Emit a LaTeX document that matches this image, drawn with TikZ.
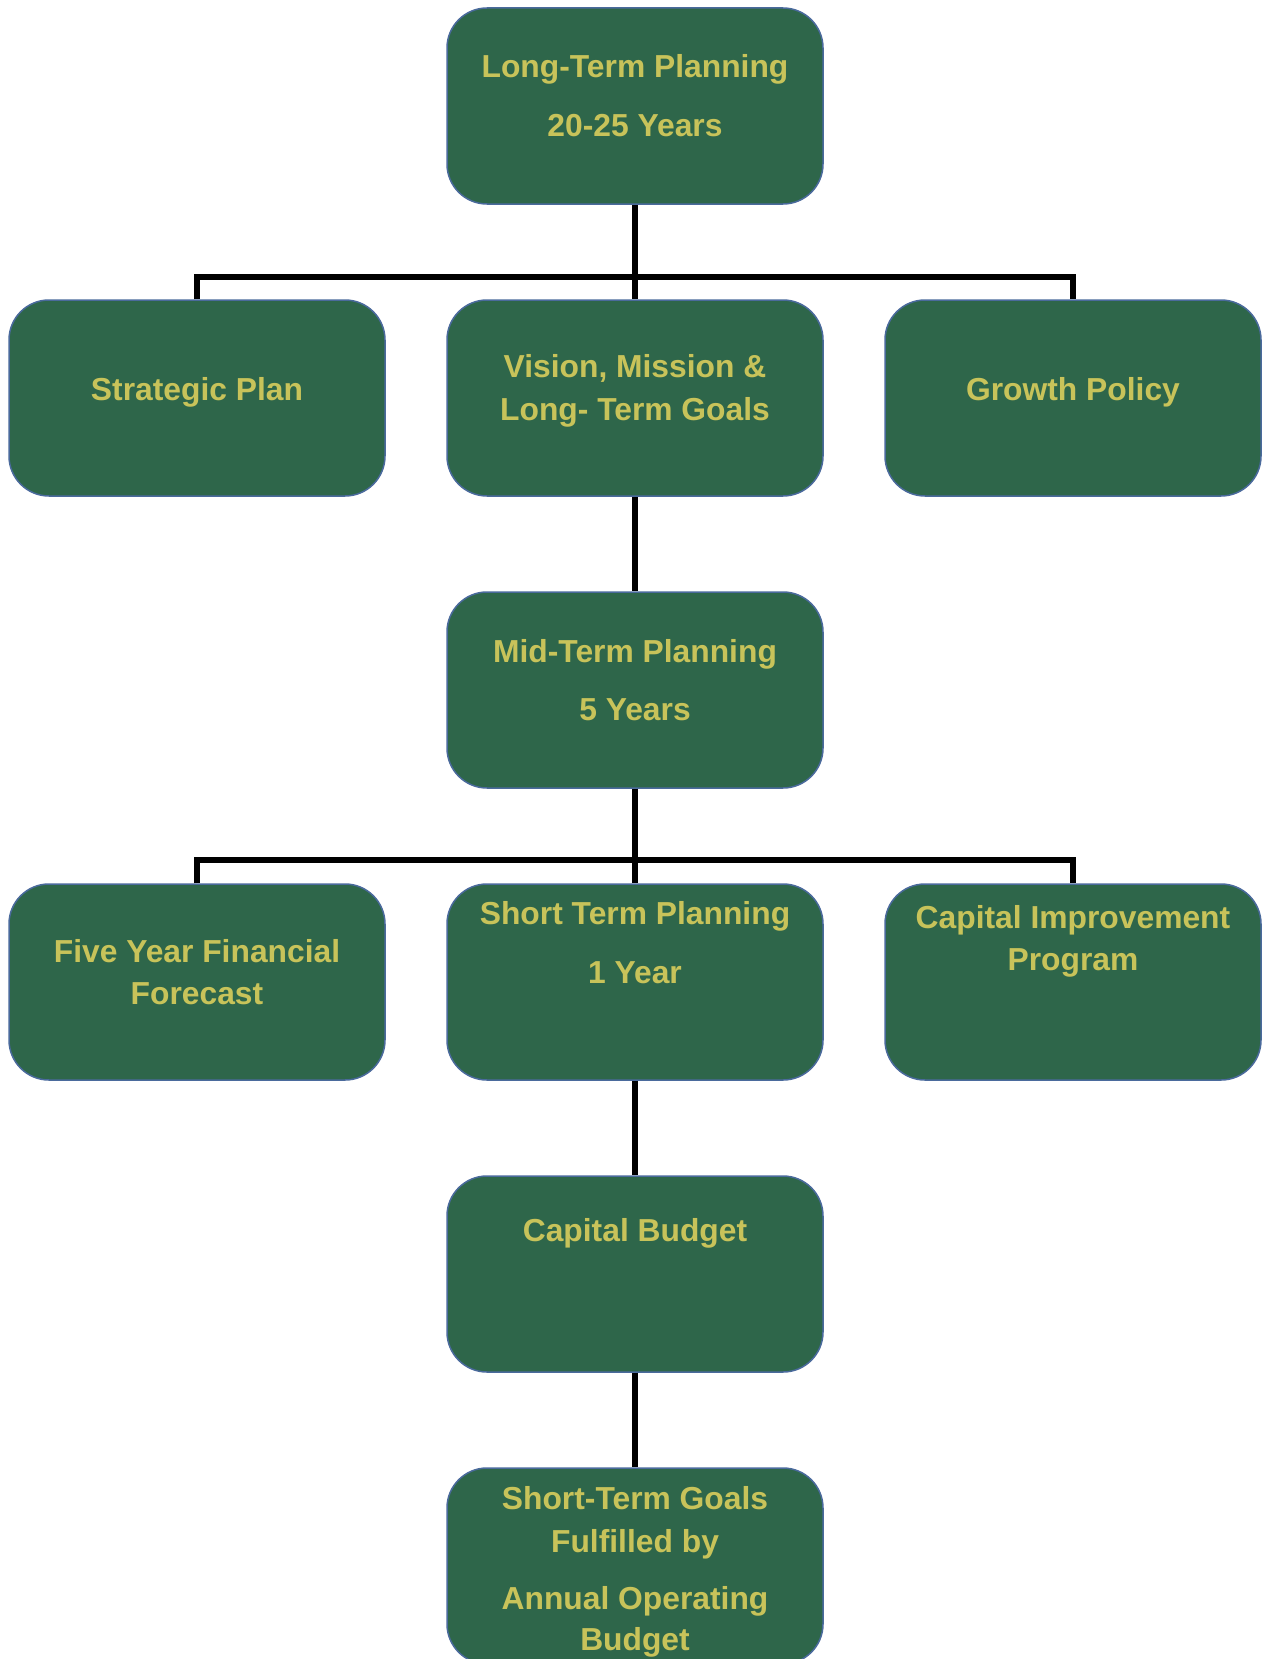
\documentclass[tikz,border=0pt]{standalone}
\usepackage{fontspec}
\setmainfont{Liberation Sans}
\definecolor{boxfill}{HTML}{2E664A}
\definecolor{boxtext}{HTML}{C8C35A}
\definecolor{boxline}{HTML}{4A6A9C}
\begin{document}
\begin{tikzpicture}[x=1pt,y=-1pt,
  box/.style={draw=boxline, line width=1.5pt, fill=boxfill, rounded corners=40pt,
    minimum width=376pt, minimum height=196pt, inner sep=0pt},
  lbl/.style={anchor=base, text=boxtext, font=\fontsize{31.8}{38}\selectfont\bfseries, inner sep=0pt},
  conn/.style={line width=5.5pt, black}]
\useasboundingbox (0,0) rectangle (1267,1659);
\fill[white] (0,0) rectangle (1267,1659);
\clip (0,0) rectangle (1267,1659);
\coordinate (bar1) at (635,277);
\coordinate (bar2) at (635,860);
\path (635,106) node[box] (top) {}
      (197,398) node[box] (strat) {}
      (635,398) node[box] (vision) {}
      (1073,398) node[box] (growth) {}
      (635,690) node[box] (mid) {}
      (197,982) node[box] (five) {}
      (635,982) node[box] (short) {}
      (1073,982) node[box] (cip) {}
      (635,1274) node[box] (capb) {}
      (635,1566) node[box] (goals) {};
\draw[conn] (top.south) -- (vision.north);
\draw[conn] (strat.north) |- (bar1) -| (growth.north);
\draw[conn] (vision.south) -- (mid.north);
\draw[conn] (mid.south) -- (short.north);
\draw[conn] (five.north) |- (bar2) -| (cip.north);
\draw[conn] (short.south) -- (capb.north);
\draw[conn] (capb.south) -- (goals.north);
\node[lbl] (t1a) at (635,78) {Long-Term Planning};
\node[lbl] (t1b) at (635,137) {20-25 Years};
\node[lbl] (t2) at (197,400) {Strategic Plan};
\node[lbl] (t3a) at (635,377) {Vision, Mission \&};
\node[lbl] (t3b) at (635,420) {Long- Term Goals};
\node[lbl] (t4) at (1073,400) {Growth Policy};
\node[lbl] (t5a) at (635,662) {Mid-Term Planning};
\node[lbl] (t5b) at (635,720) {5 Years};
\node[lbl] (t6a) at (197,962) {Five Year Financial};
\node[lbl] (t6b) at (197,1004) {Forecast};
\node[lbl] (t7a) at (635,924) {Short Term Planning};
\node[lbl] (t7b) at (635,983) {1 Year};
\node[lbl] (t8a) at (1073,928) {Capital Improvement};
\node[lbl] (t8b) at (1073,970) {Program};
\node[lbl] (t9) at (635,1241) {Capital Budget};
\node[lbl] (t10a) at (635,1509) {Short-Term Goals};
\node[lbl] (t10b) at (635,1552) {Fulfilled by};
\node[lbl] (t10c) at (635,1609) {Annual Operating};
\node[lbl] (t10d) at (635,1650) {Budget};
\end{tikzpicture}
\end{document}
